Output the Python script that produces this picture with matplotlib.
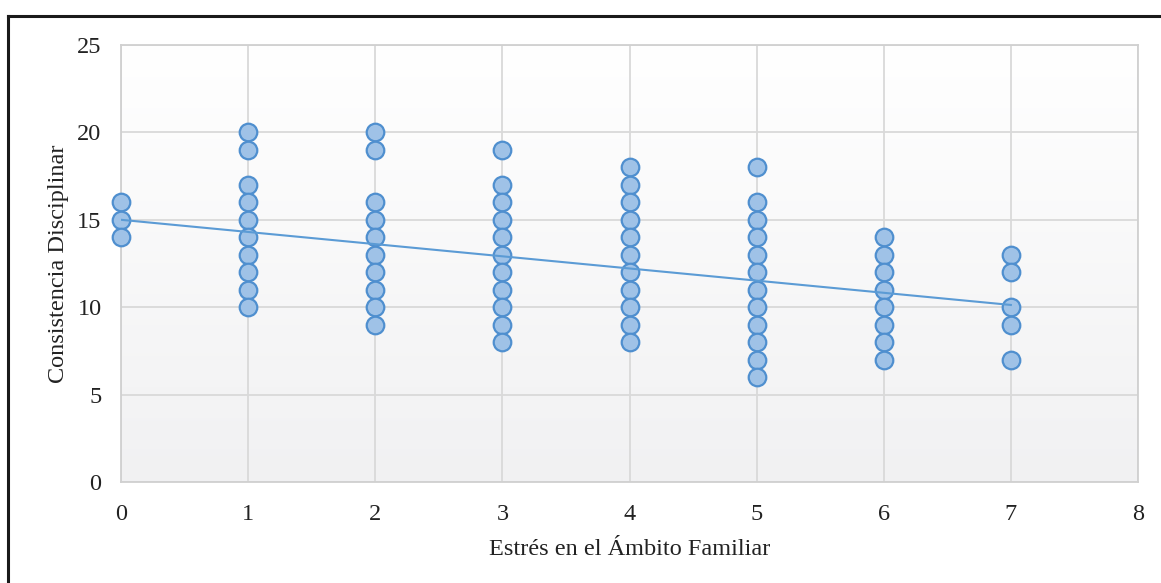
import numpy as np
import matplotlib
matplotlib.use("Agg")
import matplotlib.pyplot as plt
from matplotlib.lines import Line2D

plt.rcParams['font.family'] = ['Liberation Serif', 'DejaVu Serif']

# Scores by family-stress level (x) and disciplinary consistency (y)
estres_0 = [16, 15, 14]
estres_1 = [20, 19, 17, 16, 15, 14, 13, 12, 11, 10]
estres_2 = [20, 19, 16, 15, 14, 13, 12, 11, 10, 9]
estres_3 = [19, 17, 16, 15, 14, 13, 12, 11, 10, 9, 8]
estres_4 = [18, 17, 16, 15, 14, 13, 12, 11, 10, 9, 8]
estres_5 = [18, 16, 15, 14, 13, 12, 11, 10, 9, 8, 7, 6]
estres_6 = [14, 13, 12, 11, 10, 9, 8, 7]
estres_7 = [13, 12, 10, 9, 7]
groups = [estres_0, estres_1, estres_2, estres_3, estres_4, estres_5, estres_6, estres_7]

# Linear trend line
trend_intercept = 15.0
trend_slope = -0.696
trend_x = [0, 7]

x_ticks = [0, 1, 2, 3, 4, 5, 6, 7, 8]
y_ticks = [0, 5, 10, 15, 20, 25]
x_label = "Estrés en el Ámbito Familiar"
y_label = "Consistencia Disciplinar"

xs = np.concatenate([[i] * len(g) for i, g in enumerate(groups)])
ys = np.concatenate(groups)

W, H = 1161, 583
fig = plt.figure(figsize=(W / 100, H / 100), dpi=100)
fig.patch.set_facecolor("white")

# Outer frame (top and left edges)
fig.add_artist(Line2D([8 / W, 1.0], [1 - 16 / H, 1 - 16 / H], transform=fig.transFigure,
                      color="#1a1a1a", lw=2.2))
fig.add_artist(Line2D([8 / W, 8 / W], [0.0, 1 - 16 / H], transform=fig.transFigure,
                      color="#1a1a1a", lw=2.2))

left, right, top, bottom = 121, 1138, 45, 482
ax = fig.add_axes([left / W, 1 - bottom / H, (right - left) / W, (bottom - top) / H])

# Soft vertical gradient in the plotting area
grad = np.linspace(1.0, 0.0, 256).reshape(-1, 1)
top_c = np.array([1.0, 1.0, 1.0])
bot_c = np.array([0.945, 0.945, 0.950])
img = top_c * grad[..., None] + bot_c * (1 - grad[..., None])
ax.imshow(img, extent=[0, 8, 0, 25], aspect="auto", zorder=0, origin="upper")

ax.set_xlim(0, 8)
ax.set_ylim(0, 25)
ax.set_xticks(x_ticks)
ax.set_yticks(y_ticks)
ax.grid(True, color="#d9d9d9", lw=1.3, zorder=1)
ax.tick_params(axis="both", length=0, labelsize=17.5, colors="#222222")
ax.tick_params(axis="x", pad=16)
ax.tick_params(axis="y", pad=14)
for s in ax.spines.values():
    s.set_color("#d0d0d0")
    s.set_linewidth(1.3)

ax.scatter(xs, ys, s=160, facecolor="#9fc2e7", edgecolor="#4f8fcf", linewidth=1.6,
           zorder=3, clip_on=False)

tx = np.array(trend_x)
ax.plot(tx, trend_intercept + trend_slope * tx, color="#5b9bd5", lw=1.5, zorder=4)

ax.set_xlabel(x_label, fontsize=17.5, color="#222222", labelpad=10)
ax.set_ylabel(y_label, fontsize=17.5, color="#222222", labelpad=6)

fig.savefig("out.png", dpi=100)
